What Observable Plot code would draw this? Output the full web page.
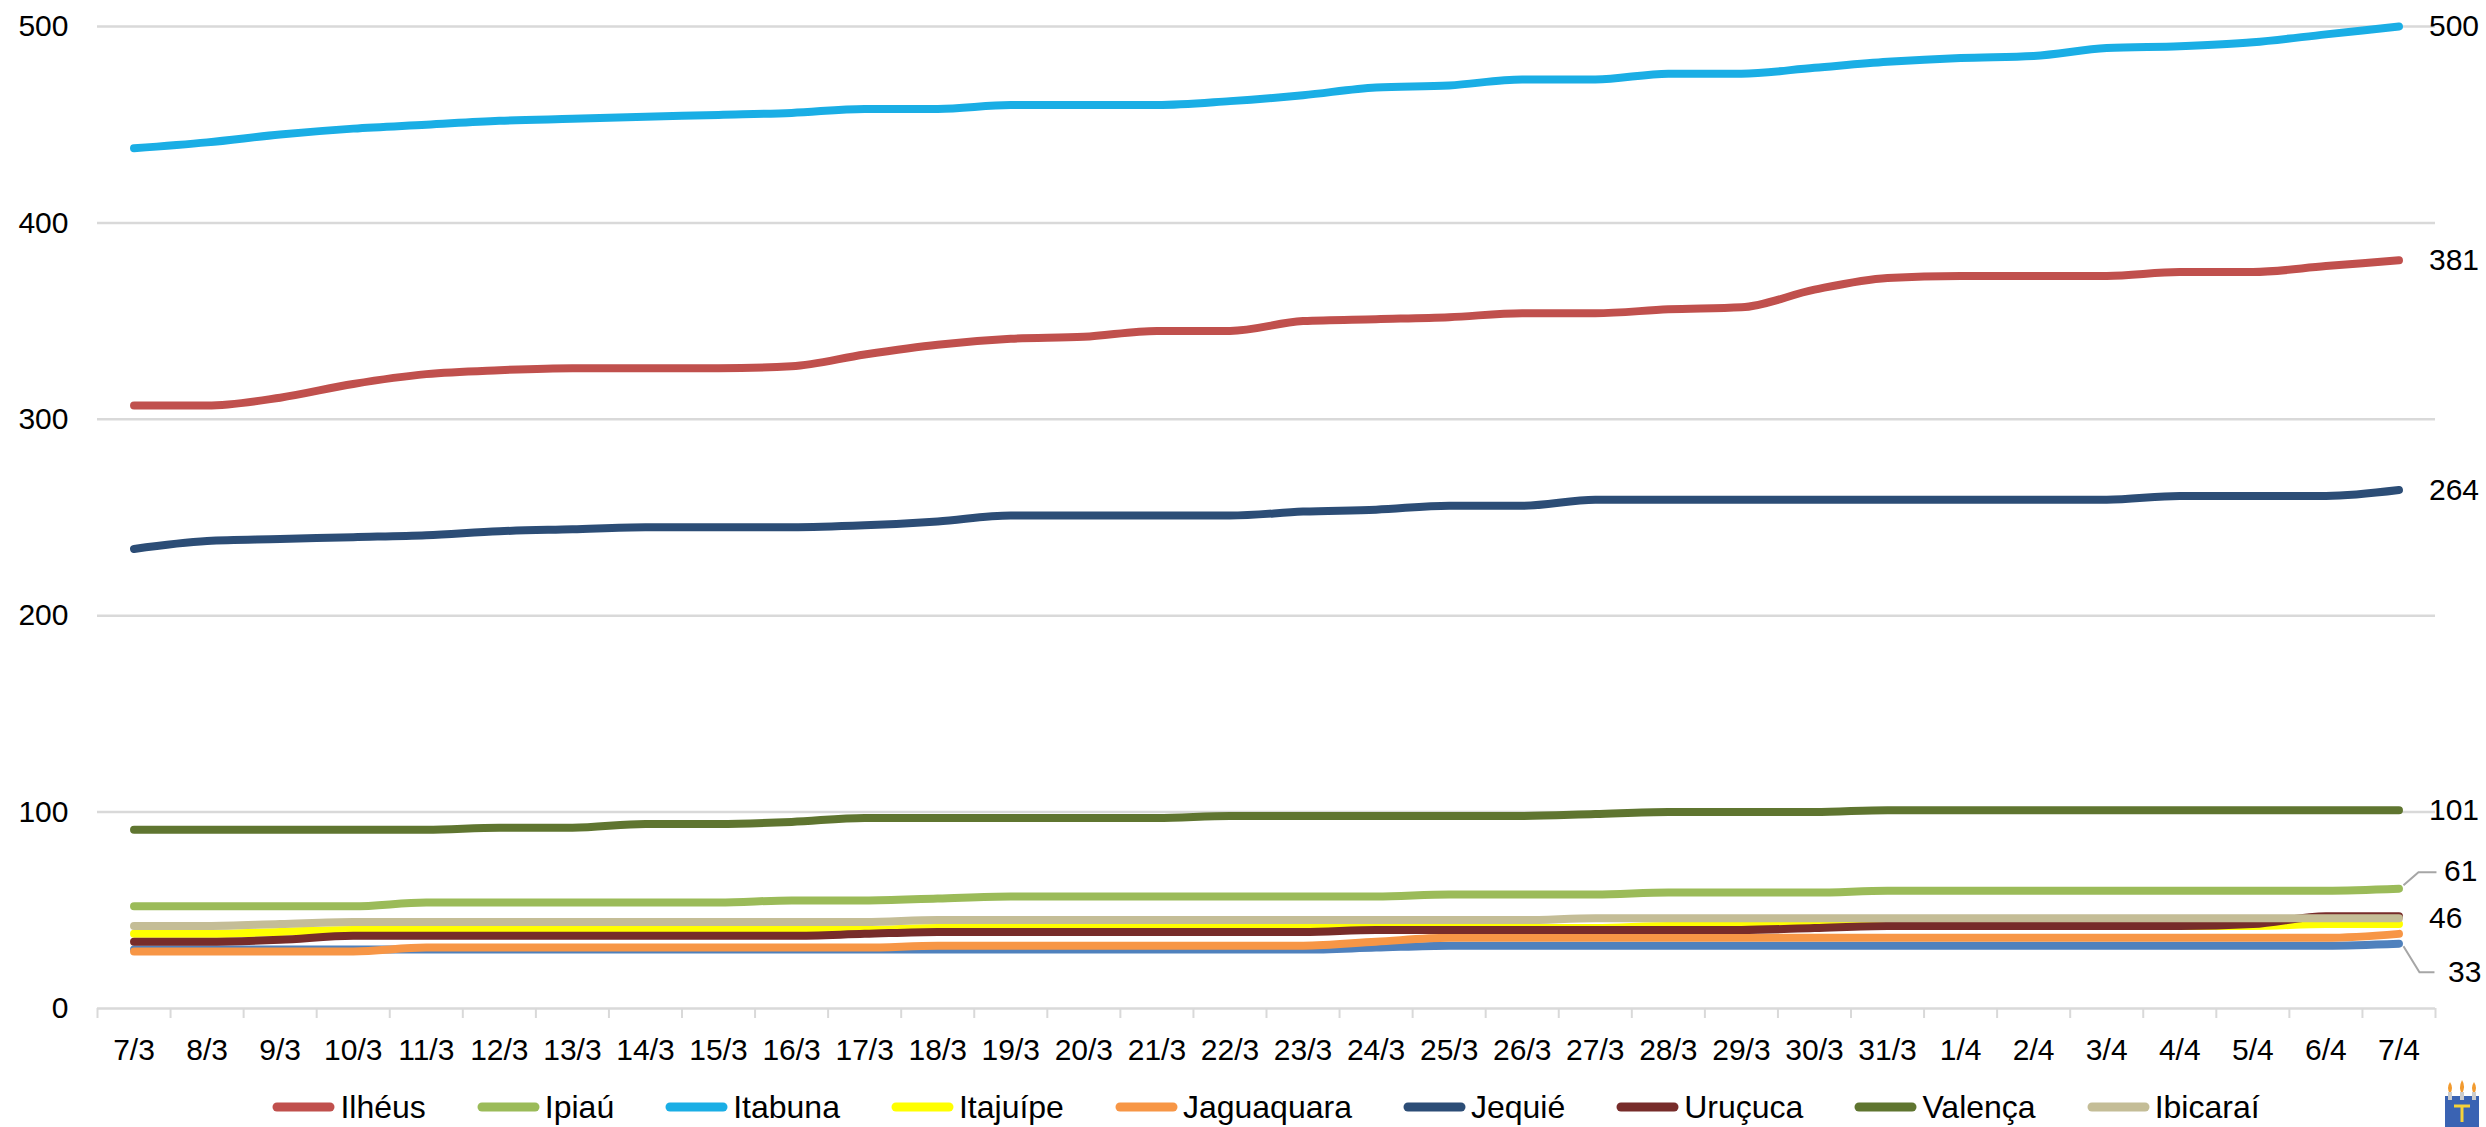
<!DOCTYPE html>
<html>
<head>
<meta charset="utf-8">
<script src="https://cdn.jsdelivr.net/npm/d3@7"></script>
<script src="https://cdn.jsdelivr.net/npm/@observablehq/plot@0.6"></script>
<style>
  html, body { margin: 0; padding: 0; background: #fff; }
  body { width: 2486px; height: 1127px; overflow: hidden; position: relative; font-family: "Liberation Sans", Arial, sans-serif; }
  #legend { display: flex; justify-content: center; align-items: center; gap: 51px; height: 42px; margin-top: 0; position: relative; top: 1px; padding-left: 97px; padding-right: 51px; font-size: 32px; line-height: 36px; color: #000; white-space: nowrap; }
  .item { display: flex; align-items: center; }
  .item svg { margin-right: 5px; }
  #logo { position: absolute; left: 2442px; top: 1078px; }
</style>
</head>
<body>
<div id="chart"></div>
<div id="legend"></div>
<svg id="logo" width="40" height="49" viewBox="0 0 40 49">
  <rect x="3" y="18" width="34" height="31" fill="#3a63b3"/>
  <path d="M8 4 q4 6 0 12 q-4 -6 0 -12z M20 2 q4 6 0 14 q-4 -6 0 -14z M32 4 q4 6 0 12 q-4 -6 0 -12z" fill="#f29a2e"/>
  <rect x="6" y="14" width="4" height="8" fill="#ccc"/><rect x="18" y="14" width="4" height="8" fill="#ccc"/><rect x="30" y="14" width="4" height="8" fill="#ccc"/>
  <path d="M12 28 h16 M20 28 v16" stroke="#f5d23a" stroke-width="3"/>
</svg>
<script>
// ---- Data ----
const dates = ["7/3","8/3","9/3","10/3","11/3","12/3","13/3","14/3","15/3","16/3","17/3","18/3","19/3","20/3","21/3","22/3","23/3","24/3","25/3","26/3","27/3","28/3","29/3","30/3","31/3","1/4","2/4","3/4","4/4","5/4","6/4","7/4"];

const yTicks = [0, 100, 200, 300, 400, 500];

// unlabelled series (not in the legend), ends at 33
const outro      = [30,30,30,30,30,30,30,30,30,30,30,30,30,30,30,30,30,31,32,32,32,32,32,32,32,32,32,32,32,32,32,33];
const ilheus     = [307,307,311,318,323,325,326,326,326,327,333,338,341,342,345,345,350,351,352,354,354,356,357,366,372,373,373,373,375,375,378,381];
const ipiau      = [52,52,52,52,54,54,54,54,54,55,55,56,57,57,57,57,57,57,58,58,58,59,59,59,60,60,60,60,60,60,60,61];
const itabuna    = [438,441,445,448,450,452,453,454,455,456,458,458,460,460,460,462,465,469,470,473,473,476,476,479,482,484,485,489,490,492,496,500];
const itajuipe   = [38,38,39,40,40,40,40,40,40,40,40,41,41,41,41,41,41,41,41,41,41,42,42,42,42,42,42,42,42,42,43,43];
const jaguaquara = [29,29,29,29,31,31,31,31,31,31,31,32,32,32,32,32,32,34,36,36,36,36,36,36,36,36,36,36,36,36,36,38];
const jequie     = [234,238,239,240,241,243,244,245,245,245,246,248,251,251,251,251,253,254,256,256,259,259,259,259,259,259,259,259,261,261,261,264];
const urucuca    = [34,34,35,37,37,37,37,37,37,37,38,39,39,39,39,39,39,40,40,40,40,40,40,41,42,42,42,42,42,43,47,47];
const valenca    = [91,91,91,91,91,92,92,94,94,95,97,97,97,97,97,98,98,98,98,98,99,100,100,100,101,101,101,101,101,101,101,101];
const ibicarai   = [42,42,43,44,44,44,44,44,44,44,44,45,45,45,45,45,45,45,45,45,46,46,46,46,46,46,46,46,46,46,46,46];

const seriesNames  = ["Outro","Ilhéus","Ipiaú","Itabuna","Itajuípe","Jaguaquara","Jequié","Uruçuca","Valença","Ibicaraí"];
const seriesValues = [outro, ilheus, ipiau, itabuna, itajuipe, jaguaquara, jequie, urucuca, valenca, ibicarai];
const seriesColors = ["#4F81BD","#C0504D","#9BBB59","#1AAEE5","#FFFF00","#F79646","#2C4D76","#772C2A","#5F7530","#C4BD97"];
const legendNames  = ["Ilhéus","Ipiaú","Itabuna","Itajuípe","Jaguaquara","Jequié","Uruçuca","Valença","Ibicaraí"];

// end-of-line labels
const plainLabels = ["Itabuna","Ilhéus","Jequié","Valença","Ibicaraí"];
const upLabel = "Ipiaú";
const downLabel = "Outro";

// ---- Build table ----
const rows = [];
seriesNames.forEach((name, k) => seriesValues[k].forEach((v, i) => rows.push({series: name, i, value: v})));
const lastIdx = dates.length - 1;
const ends = seriesNames.map((name, k) => ({series: name, i: lastIdx, value: seriesValues[k][lastIdx]}));
const boundaries = d3.range(dates.length + 1).map(i => i - 0.5);

const font = "Liberation Sans, Arial, sans-serif";

function leaders(index, scales) {
  const g = d3.create("svg:g").attr("fill", "none").attr("stroke", "#A6A6A6").attr("stroke-width", 2);
  const up = ends.find(d => d.series === upLabel);
  const dn = ends.find(d => d.series === downLabel);
  const ux = scales.x(up.i), uy = scales.y(up.value);
  g.append("path").attr("d", `M${ux + 5},${uy - 3}L${ux + 20},${uy - 16}L${ux + 38},${uy - 16}`);
  const dx = scales.x(dn.i), dy = scales.y(dn.value);
  g.append("path").attr("d", `M${dx + 5},${dy + 3}L${dx + 21},${dy + 29}L${dx + 36},${dy + 29}`);
  return g.node();
}

const chart = Plot.plot({
  width: 2486,
  height: 1085,
  marginTop: 26,
  marginBottom: 77,
  marginLeft: 97,
  marginRight: 51,
  style: {fontFamily: font, fontSize: "30px", background: "white", color: "#000", overflow: "visible"},
  x: {type: "linear", domain: [-0.5, lastIdx + 0.5], axis: null},
  y: {domain: [0, 500], axis: null},
  color: {domain: seriesNames, range: seriesColors},
  marks: [
    Plot.ruleY(yTicks, {y: d => d, stroke: "#D9D9D9", strokeWidth: 2.5}),
    Plot.ruleX(boundaries, {x: d => d, y1: 0, y2: 0, insetBottom: -10, stroke: "#D9D9D9", strokeWidth: 2}),
    Plot.text(yTicks, {y: d => d, frameAnchor: "left", dx: -29, textAnchor: "end", text: d => String(d), fontSize: 30, fill: "#000"}),
    Plot.text(dates, {x: (d, i) => i, y: () => 0, dy: 42, text: d => d, fontSize: 30, fill: "#000"}),
    Plot.line(rows, {x: "i", y: "value", z: "series", stroke: "series", strokeWidth: 8, strokeLinecap: "round", strokeLinejoin: "round", curve: "monotone-x"}),
    Plot.text(ends.filter(d => plainLabels.includes(d.series)), {x: "i", y: "value", text: d => String(d.value), dx: 30, textAnchor: "start", fontSize: 30, fill: "#000"}),
    Plot.text(ends.filter(d => d.series === upLabel), {x: "i", y: "value", text: d => String(d.value), dx: 45, dy: -17, textAnchor: "start", fontSize: 30, fill: "#000"}),
    Plot.text(ends.filter(d => d.series === downLabel), {x: "i", y: "value", text: d => String(d.value), dx: 49, dy: 29, textAnchor: "start", fontSize: 30, fill: "#000"}),
    leaders
  ]
});
document.getElementById("chart").appendChild(chart);

// ---- Legend ----
const legend = d3.select("#legend");
legendNames.forEach(name => {
  const color = seriesColors[seriesNames.indexOf(name)];
  const item = legend.append("div").attr("class", "item");
  const s = item.append("svg").attr("width", 63).attr("height", 14);
  s.append("line").attr("x1", 5).attr("x2", 58).attr("y1", 7).attr("y2", 7)
    .attr("stroke", color).attr("stroke-width", 9).attr("stroke-linecap", "round");
  item.append("span").text(name);
});
</script>
</body>
</html>
